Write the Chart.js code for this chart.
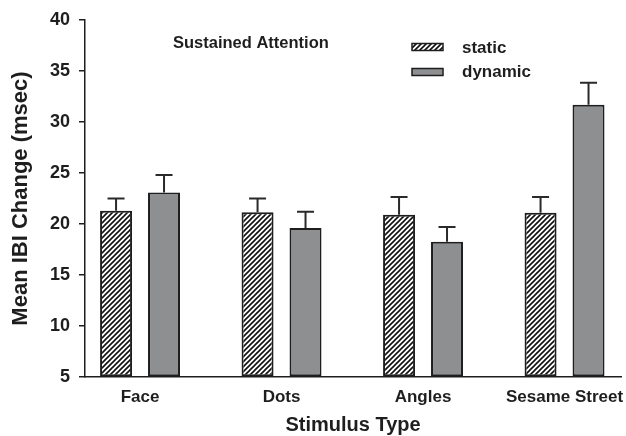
<!DOCTYPE html>
<html>
<head>
<meta charset="utf-8">
<script src="https://cdn.jsdelivr.net/npm/chart.js@4.4.1/dist/chart.umd.min.js"></script>
<style>
  html, body { margin: 0; padding: 0; background: #fff; }
</style>
</head>
<body>
<canvas id="myChart" width="626" height="436"></canvas>
<script>
// chart values
const categories = ["Face", "Dots", "Angles", "Sesame Street"];
const staticMeans = [21.3, 21.15, 20.9, 21.1];
const staticErrors = [1.2, 1.35, 1.75, 1.55];
const dynamicMeans = [23.1, 19.6, 18.25, 31.7];
const dynamicErrors = [1.7, 1.6, 1.45, 2.15];
const yTicks = [5, 10, 15, 20, 25, 30, 35, 40];

const FONT = "'Liberation Sans', Arial, Helvetica, sans-serif";
const INK = "#1e1e1e";
const GREY = "#8e8f91";

// diagonal hatch for the "static" bars
function makeHatch() {
  const p = 5;
  const c = document.createElement("canvas");
  c.width = p;
  c.height = p;
  const g = c.getContext("2d");
  g.fillStyle = "#fff";
  g.fillRect(0, 0, p, p);
  g.strokeStyle = "#111";
  g.lineWidth = 1.6;
  g.beginPath();
  g.moveTo(-1, p + 1); g.lineTo(p + 1, -1);
  g.moveTo(-1, 1); g.lineTo(1, -1);
  g.moveTo(p - 1, p + 1); g.lineTo(p + 1, p - 1);
  g.stroke();
  return g.createPattern(c, "repeat");
}
const hatch = makeHatch();

// upward-only error bars with caps
const errorBars = {
  id: "errorBars",
  afterDatasetsDraw(chart) {
    const ctx = chart.ctx;
    const yScale = chart.scales.y;
    ctx.save();
    ctx.strokeStyle = "#2a2a2a";
    ctx.lineWidth = 2;
    chart.data.datasets.forEach((ds, di) => {
      const meta = chart.getDatasetMeta(di);
      meta.data.forEach((bar, i) => {
        const top = yScale.getPixelForValue(ds.data[i].y + ds.errors[i]);
        ctx.beginPath();
        ctx.moveTo(bar.x, bar.y);
        ctx.lineTo(bar.x, top);
        ctx.moveTo(bar.x - 8.5, top);
        ctx.lineTo(bar.x + 8.5, top);
        ctx.stroke();
      });
    });
    ctx.restore();
  },
};

// panel title + legend box
const annotations = {
  id: "annotations",
  afterDraw(chart) {
    const ctx = chart.ctx;
    ctx.save();
    ctx.fillStyle = INK;
    ctx.textBaseline = "alphabetic";
    ctx.font = `bold 16.5px ${FONT}`;
    ctx.fillText("Sustained Attention", 173, 48);

    ctx.font = `bold 17px ${FONT}`;
    ctx.fillText("static", 462, 53);
    ctx.fillText("dynamic", 462, 77);

    ctx.lineWidth = 1.5;
    ctx.strokeStyle = INK;
    ctx.fillStyle = hatch;
    ctx.fillRect(412, 43.5, 31, 7);
    ctx.strokeRect(412, 43.5, 31, 7);
    ctx.fillStyle = GREY;
    ctx.fillRect(412, 68.5, 31, 7);
    ctx.strokeRect(412, 68.5, 31, 7);
    ctx.restore();
  },
};

const ctx = document.getElementById("myChart").getContext("2d");

new Chart(ctx, {
  type: "bar",
  data: {
    datasets: [
      {
        label: "static",
        data: staticMeans.map((v, i) => ({ x: i, y: v })),
        errors: staticErrors,
        backgroundColor: hatch,
        borderColor: INK,
        borderWidth: 2,
        borderSkipped: false,
        base: 5,
      },
      {
        label: "dynamic",
        data: dynamicMeans.map((v, i) => ({ x: i, y: v })),
        errors: dynamicErrors,
        backgroundColor: GREY,
        borderColor: INK,
        borderWidth: 2,
        borderSkipped: false,
        base: 5,
      },
    ],
  },
  options: {
    responsive: false,
    animation: false,
    devicePixelRatio: 1,
    categoryPercentage: 0.678,
    barPercentage: 0.667,
    layout: { padding: { top: 20, right: 5, left: 0, bottom: 0 } },
    plugins: {
      legend: { display: false },
      tooltip: { enabled: false },
    },
    scales: {
      x: {
        type: "linear",
        offset: false,
        min: -0.389,
        max: 3.399,
        afterBuildTicks: (s) => {
          s.ticks = categories.map((c, i) => ({ value: i }));
        },
        afterFit: (s) => {
          s.height = 59;
          s.paddingLeft = 0;
          s.paddingRight = 0;
        },
        grid: { display: false, drawTicks: false, offset: false },
        border: { display: true, color: INK, width: 1.5 },
        ticks: {
          callback: (v) => categories[v],
          font: { family: FONT, size: 17, weight: "bold" },
          color: INK,
          padding: 10,
          maxRotation: 0,
          autoSkip: false,
        },
        title: {
          display: true,
          text: "Stimulus Type",
          font: { family: FONT, size: 20, weight: "bold" },
          color: INK,
          padding: { top: 0, bottom: -1 },
        },
      },
      y: {
        min: 5,
        max: 40,
        afterBuildTicks: (s) => {
          s.ticks = yTicks.map((v) => ({ value: v }));
        },
        afterFit: (s) => {
          s.width = 85;
          s.paddingTop = 0;
          s.paddingBottom = 0;
        },
        grid: {
          drawOnChartArea: false,
          drawTicks: true,
          tickLength: 6,
          color: INK,
          lineWidth: 1.5,
        },
        border: { display: true, color: INK, width: 1.5 },
        ticks: {
          font: { family: FONT, size: 18, weight: "bold" },
          color: INK,
          padding: 9,
        },
        title: {
          display: true,
          text: "Mean IBI Change (msec)",
          font: { family: FONT, size: 22, weight: "bold" },
          color: INK,
          padding: { top: 8, bottom: 0 },
        },
      },
    },
  },
  plugins: [errorBars, annotations],
});
</script>
</body>
</html>
